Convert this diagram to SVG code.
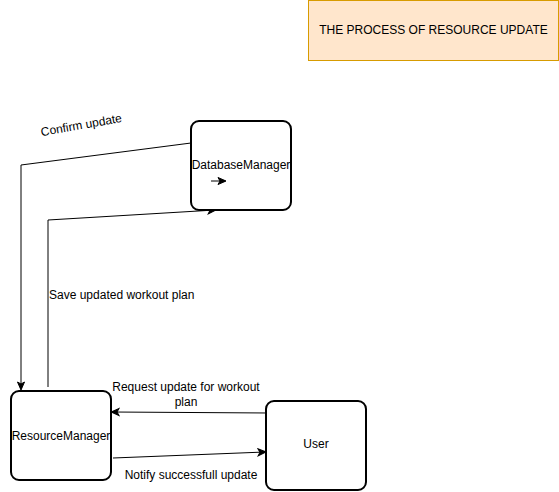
<svg xmlns="http://www.w3.org/2000/svg" width="559" height="492" viewBox="0 0 559 492">
<defs>
<marker id="arr" markerWidth="10" markerHeight="10" refX="8" refY="5" orient="auto" markerUnits="userSpaceOnUse">
<path d="M1,1.5 L9,5 L1,8.5 L3,5 Z" fill="#000" stroke="#000" stroke-width="1"/>
</marker>
<style>
.node{fill:#fff;stroke:#000;stroke-width:2}
.lbl{font-family:"Liberation Sans",Arial,sans-serif;font-size:12px;fill:#000}
.edge{fill:none;stroke:#000;stroke-width:1}
</style>
</defs>
<rect width="559" height="492" fill="#fff"/>
<g id="title">
<rect x="308.5" y="0.5" width="250" height="60" fill="#ffe6cc" stroke="#d79b00" stroke-width="1"/>
<text class="lbl" x="433.5" y="34" text-anchor="middle">THE PROCESS OF RESOURCE UPDATE</text>
</g>
<g id="connectors">
<path class="edge" d="M191,143 L21,165 L21,389" marker-end="url(#arr)"/>
<text class="lbl" x="82" y="129" text-anchor="middle" transform="rotate(-10 82 129)" fill="#333">Confirm update</text>
<path class="edge" d="M48,387 L48,220 L215,210" marker-end="url(#arr)"/>
<text class="lbl" x="49" y="299">Save updated workout plan</text>
<path class="edge" d="M269,413 L112,412" marker-end="url(#arr)" stroke="#333"/>
<text class="lbl" x="186" y="391" text-anchor="middle">Request update for workout</text>
<text class="lbl" x="186" y="406" text-anchor="middle">plan</text>
<path class="edge" d="M113,458 L265,452" marker-end="url(#arr)"/>
<text class="lbl" x="191" y="479" text-anchor="middle">Notify successfull update</text>
</g>
<g id="DatabaseManager">
<rect class="node" x="191" y="121" width="100" height="89" rx="8"/>
<text class="lbl" x="241" y="169" text-anchor="middle">DatabaseManager</text>
<path class="edge" d="M211,181 L225,181" marker-end="url(#arr)"/>
</g>
<g id="ResourceManager">
<rect class="node" x="11" y="391" width="100" height="89" rx="8"/>
<text class="lbl" x="61" y="440" text-anchor="middle">ResourceManager</text>
</g>
<g id="User">
<rect class="node" x="266" y="401" width="100" height="89" rx="8"/>
<text class="lbl" x="316" y="448" text-anchor="middle">User</text>
</g>
</svg>
